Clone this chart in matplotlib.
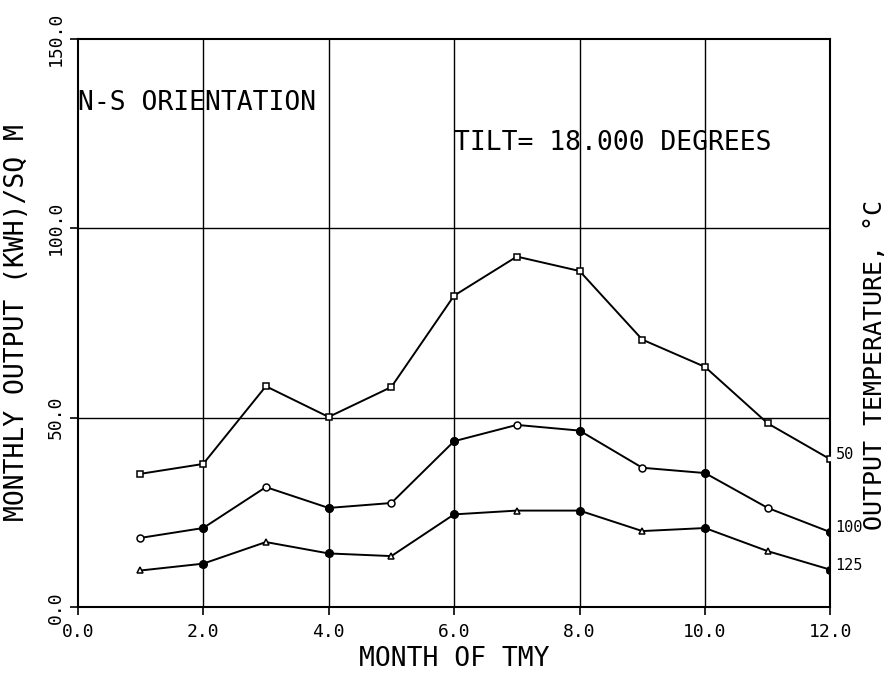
import matplotlib
matplotlib.use('Agg')
import matplotlib.pyplot as plt
import numpy as np

plt.rcParams['font.family'] = ['DejaVu Sans Mono']

# monthly output (KWH)/SQ M for three output temperatures
months = [1, 2, 3, 4, 5, 6, 7, 8, 9, 10, 11, 12]
out_50 = [35.2, 37.8, 58.3, 50.2, 58.1, 82.2, 92.5, 88.7, 70.6, 63.4, 48.5, 39.0]
out_100 = [18.3, 20.9, 31.7, 26.2, 27.5, 43.8, 48.1, 46.6, 36.8, 35.4, 26.2, 19.8]
out_125 = [9.7, 11.5, 17.2, 14.2, 13.5, 24.5, 25.5, 25.5, 20.1, 20.9, 14.8, 9.9]
temp_labels = ['50', '100', '125']

x_ticks = [0, 2, 4, 6, 8, 10, 12]
y_ticks = [0, 50, 100, 150]

fig = plt.figure(figsize=(8.93, 6.77), dpi=100)
ax = fig.add_axes([0.087, 0.103, 0.843, 0.840])

for v in [2, 4, 6, 8, 10]:
    ax.axvline(v, color='black', lw=1.0, zorder=1)
for v in [50, 100]:
    ax.axhline(v, color='black', lw=1.0, zorder=1)

series = [(out_50, 's'), (out_100, 'o'), (out_125, '^')]
for vals, mk in series:
    ax.plot(months, vals, color='black', lw=1.4, marker=mk, ms=5,
            mfc='white', mec='black', mew=1.1, zorder=3)
    # points on the grid lines look filled in the plot
    ev = [m for m in months if m % 2 == 0]
    evv = [vals[months.index(m)] for m in ev]
    if mk != 's':
        ax.plot(ev, evv, ls='none', marker='o', ms=5.5, color='black', zorder=4)

for vals, lab in zip([out_50, out_100, out_125], temp_labels):
    ax.text(12.08, vals[-1] + 1.2, lab, fontsize=11, ha='left', va='center')

ax.set_xlim(0, 12)
ax.set_ylim(0, 150)
ax.set_xticks(x_ticks)
ax.set_xticklabels(['%.1f' % t for t in x_ticks], fontsize=13)
ax.set_yticks(y_ticks)
ax.set_yticklabels(['%.1f' % t for t in y_ticks], fontsize=13, rotation=90, va='center')
ax.tick_params(direction='out', length=6, width=1.2, color='black')
ax.tick_params(axis='x', pad=5)
for s in ax.spines.values():
    s.set_linewidth(1.5)

ax.set_xlabel('MONTH OF TMY', fontsize=19, labelpad=4)
ax.set_ylabel('MONTHLY OUTPUT (KWH)/SQ M', fontsize=19)
ax.yaxis.set_label_coords(-0.063, 0.5)

ax.text(0.0, 133, 'N-S ORIENTATION', fontsize=19, ha='left', va='center')
ax.text(6.0, 122.5, 'TILT= 18.000 DEGREES', fontsize=19, ha='left', va='center')
ax.text(1.059, 0.426, 'OUTPUT TEMPERATURE, \u00b0C', fontsize=18, rotation=90,
        ha='center', va='center', transform=ax.transAxes)

fig.savefig('out.png', dpi=100)
